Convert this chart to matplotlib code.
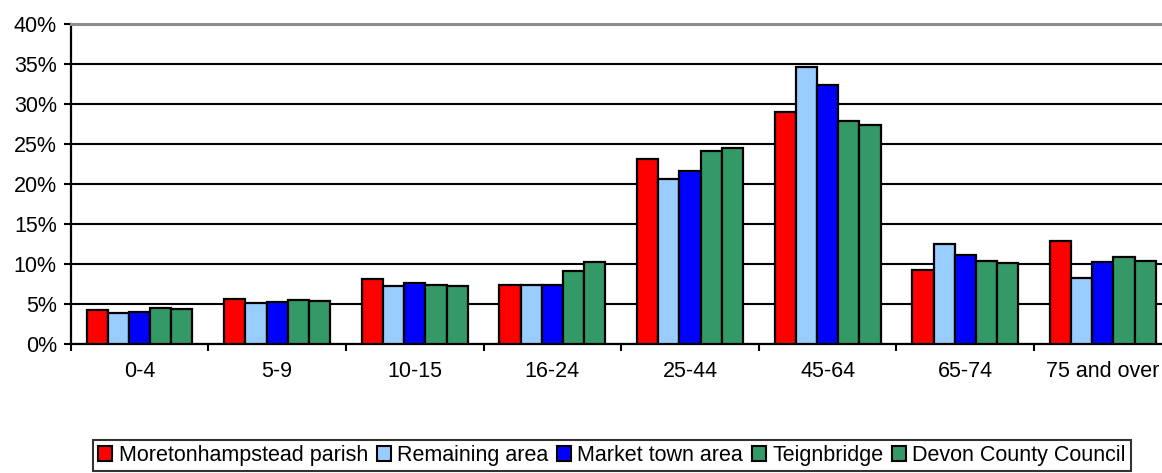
import numpy as np
import matplotlib
matplotlib.use("Agg")
import matplotlib.pyplot as plt
from matplotlib.patches import Patch
from matplotlib.ticker import FixedLocator, PercentFormatter

plt.rcParams['font.family'] = ['Liberation Sans', 'DejaVu Sans']

age_groups = ["0-4", "5-9", "10-15", "16-24", "25-44", "45-64", "65-74", "75 and over"]
series_names = ["Moretonhampstead parish", "Remaining area", "Market town area",
                "Teignbridge", "Devon County Council"]

moretonhampstead = [4.2, 5.6, 8.1, 7.4, 23.2, 29.1, 9.3, 12.9]
remaining = [3.9, 5.1, 7.3, 7.4, 20.6, 34.7, 12.5, 8.3]
market_town = [4.0, 5.3, 7.6, 7.4, 21.7, 32.4, 11.1, 10.3]
teignbridge = [4.5, 5.5, 7.4, 9.2, 24.2, 27.9, 10.4, 10.9]
devon = [4.4, 5.4, 7.3, 10.3, 24.5, 27.4, 10.2, 10.4]

colours = ["#FF0000", "#99CCFF", "#0000FF", "#339966", "#339966"]

all_series = [moretonhampstead, remaining, market_town, teignbridge, devon]

fig = plt.figure(figsize=(11.62, 4.73), dpi=100)
# plot area runs slightly past the right edge of the picture, as in the original
ax = fig.add_axes([70.7 / 1162, 1 - 344 / 473, 1101 / 1162, 319.5 / 473])

x = np.arange(len(age_groups))
bar_w = 1 / 6.5
for i, (vals, col) in enumerate(zip(all_series, colours)):
    offs = (i - 2) * bar_w
    ax.bar(x + offs, vals, width=bar_w, color=col, edgecolor="black",
           linewidth=1.6, zorder=3)

ax.set_xlim(-0.5, len(age_groups) - 0.5)
ax.set_ylim(0, 40)
ax.set_yticks(np.arange(0, 41, 5))
ax.yaxis.set_major_formatter(PercentFormatter(decimals=0))
ax.yaxis.grid(True, color="black", linewidth=1.5)
ax.set_axisbelow(True)

ax.xaxis.set_major_locator(FixedLocator(np.arange(-0.5, len(age_groups), 1)))
ax.xaxis.set_minor_locator(FixedLocator(x))
ax.set_xticklabels([], minor=False)
ax.set_xticklabels(age_groups, minor=True)
ax.tick_params(axis="x", which="major", length=5, width=1.5, direction="out")
ax.tick_params(axis="x", which="minor", length=0, pad=12, labelsize=15.5)
ax.tick_params(axis="y", length=5, width=1.5, pad=5, labelsize=15.5)

for s in ["left", "bottom"]:
    ax.spines[s].set_linewidth(1.6)
ax.spines["right"].set_visible(False)
ax.spines["top"].set_color("#8c8c8c")
ax.spines["top"].set_linewidth(2.2)

handles = [Patch(facecolor=c, edgecolor="black", linewidth=1.5) for c in colours]
leg = fig.legend(handles, series_names, loc="center", ncol=5,
                 bbox_to_anchor=(612 / 1162, 1 - 455.5 / 473),
                 fontsize=15.5, frameon=True, fancybox=False,
                 handlelength=0.65, handleheight=0.65, handletextpad=0.3,
                 columnspacing=0.4, borderpad=0.25, borderaxespad=0)
leg.get_frame().set_edgecolor("black")
leg.get_frame().set_linewidth(1.5)

fig.savefig("out.png", dpi=100)
